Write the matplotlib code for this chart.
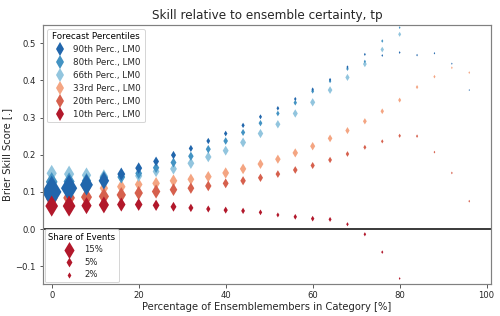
import numpy as np
import matplotlib
matplotlib.use("Agg")
import matplotlib.pyplot as plt
from matplotlib.lines import Line2D

# bins of ensemble members in category [%]
x_bins = list(range(0, 100, 4))

# Brier skill score per forecast percentile
bss_p90 = [0.100, 0.110, 0.119, 0.130, 0.148, 0.164, 0.182, 0.199, 0.217, 0.237, 0.257, 0.279, 0.302,
           0.325, 0.350, 0.376, 0.402, 0.436, 0.470, 0.467, 0.475, 0.468, 0.473, 0.445, 0.374]
bss_p80 = [0.127, 0.128, 0.130, 0.138, 0.140, 0.150, 0.165, 0.179, 0.196, 0.215, 0.237, 0.260, 0.285,
           0.311, 0.340, 0.371, 0.398, 0.431, 0.451, 0.506, 0.542]
bss_p66 = [0.150, 0.148, 0.145, 0.142, 0.140, 0.143, 0.155, 0.162, 0.177, 0.194, 0.211, 0.233, 0.257,
           0.282, 0.311, 0.341, 0.374, 0.408, 0.444, 0.483, 0.524]
bss_p33 = [0.128, 0.122, 0.112, 0.110, 0.114, 0.120, 0.123, 0.130, 0.134, 0.141, 0.151, 0.162, 0.175,
           0.188, 0.205, 0.223, 0.244, 0.265, 0.290, 0.317, 0.347, 0.382, 0.410, 0.434, 0.421]
bss_p20 = [0.082, 0.084, 0.086, 0.088, 0.092, 0.097, 0.101, 0.106, 0.110, 0.116, 0.123, 0.130, 0.138,
           0.148, 0.159, 0.171, 0.186, 0.202, 0.220, 0.236, 0.251, 0.250, 0.207, 0.151, 0.075]
bss_p10 = [0.062, 0.062, 0.063, 0.065, 0.066, 0.066, 0.064, 0.060, 0.057, 0.054, 0.051, 0.049, 0.045,
           0.038, 0.033, 0.028, 0.026, 0.013, -0.014, -0.062, -0.133]

# share of events per bin [%]
share_p90 = [55, 38, 24, 16, 9, 7, 5, 3.7, 2.6, 2.1, 1.7, 1.5, 1.3, 1.1, 0.9, 0.8, 0.7, 0.6, 0.5,
             0.4, 0.4, 0.35, 0.3, 0.25, 0.2]
share_p80 = [20, 17.6, 12.6, 10.4, 8.4, 6.7, 5.9, 5.1, 4.4, 3.7, 3.1, 2.6, 2.1, 1.7, 1.7, 1.3, 0.9,
             0.9, 0.65, 0.65, 0.4]
share_p66 = [15, 15, 12.6, 10.4, 8.4, 7.5, 6.7, 6.7, 6.7, 5.9, 5.1, 5.1, 4.4, 3.7, 3.7, 3.7, 3.1,
             2.6, 2.1, 1.7, 1.3]
share_p33 = [15, 15, 12.6, 10.4, 10.4, 8.4, 8.4, 8.4, 6.7, 6.7, 6.7, 5.9, 5.1, 4.4, 4.4, 3.7, 3.1,
             2.6, 2.1, 1.7, 1.3, 0.9, 0.65, 0.4, 0.4]
share_p20 = [20, 20, 17.6, 15, 12.6, 10.4, 10.4, 8.4, 6.7, 5.9, 5.1, 4.4, 3.7, 3.1, 3.1, 2.6, 2.1,
             1.7, 1.3, 0.9, 0.9, 0.65, 0.4, 0.4, 0.4]
share_p10 = [23.4, 23.4, 15, 15, 10.4, 8.4, 6.7, 5.1, 3.7, 2.6, 2.6, 2.1, 1.7, 1.3, 1.7, 1.7, 1.3,
             0.9, 0.9, 0.65, 0.4]

labels = ["90th Perc., LM0", "80th Perc., LM0", "66th Perc., LM0",
          "33rd Perc., LM0", "20th Perc., LM0", "10th Perc., LM0"]
colors = ["#2166ac", "#4393c3", "#92c5de", "#f4a582", "#d6604d", "#b2182b"]
legend_shares = [15, 5, 2]

series = [bss_p90, bss_p80, bss_p66, bss_p33, bss_p20, bss_p10]
shares = [share_p90, share_p80, share_p66, share_p33, share_p20, share_p10]
size_k = 9.6

fig = plt.figure(figsize=(500 / 72, 316 / 72), dpi=72)
ax = fig.add_axes([0.086, 0.101, 0.896, 0.821])

# draw order: lighter/middle categories first
order = [3, 4, 2, 1, 0, 5]
for i in order:
    n = len(series[i])
    ax.scatter(x_bins[:n], series[i], s=np.array(shares[i]) * size_k, marker="d",
               color=colors[i], linewidths=0)

ax.axhline(0, color="black", lw=1.5, zorder=0.5)
ax.set_xlim(-2, 101)
ax.set_ylim(-0.148, 0.55)
ax.set_xticks([0, 20, 40, 60, 80, 100])
ax.set_yticks([-0.1, 0.0, 0.1, 0.2, 0.3, 0.4, 0.5])
for sp in ax.spines.values():
    sp.set_color("0.5")
    sp.set_linewidth(1.2)
ax.tick_params(colors="0.2", labelcolor="0.15", labelsize=8.5)

ax.set_title("Skill relative to ensemble certainty, tp", color="0.15")
ax.set_xlabel("Percentage of Ensemblemembers in Category [%]", color="0.15", labelpad=2)
ax.set_ylabel("Brier Skill Score [.]", color="0.15", labelpad=3)

h1 = [Line2D([], [], ls="none", marker="d", markersize=10, color=c, markeredgewidth=0) for c in colors]
leg1 = ax.legend(h1, labels, title="Forecast Percentiles", loc="upper left",
                 labelcolor="0.15", fontsize=8.7, title_fontsize=8.7, handletextpad=0.6,
                 labelspacing=0.45)
ax.add_artist(leg1)

h2 = [ax.scatter([], [], s=v * size_k, marker="d", color=colors[5], linewidths=0) for v in legend_shares]
ax.legend(h2, [f"{v}%" for v in legend_shares], title="Share of Events", loc="lower left",
          labelcolor="0.15", fontsize=8.5, title_fontsize=8.5, borderaxespad=0.2,
          labelspacing=0.4)

fig.savefig("out.png", dpi=72)
